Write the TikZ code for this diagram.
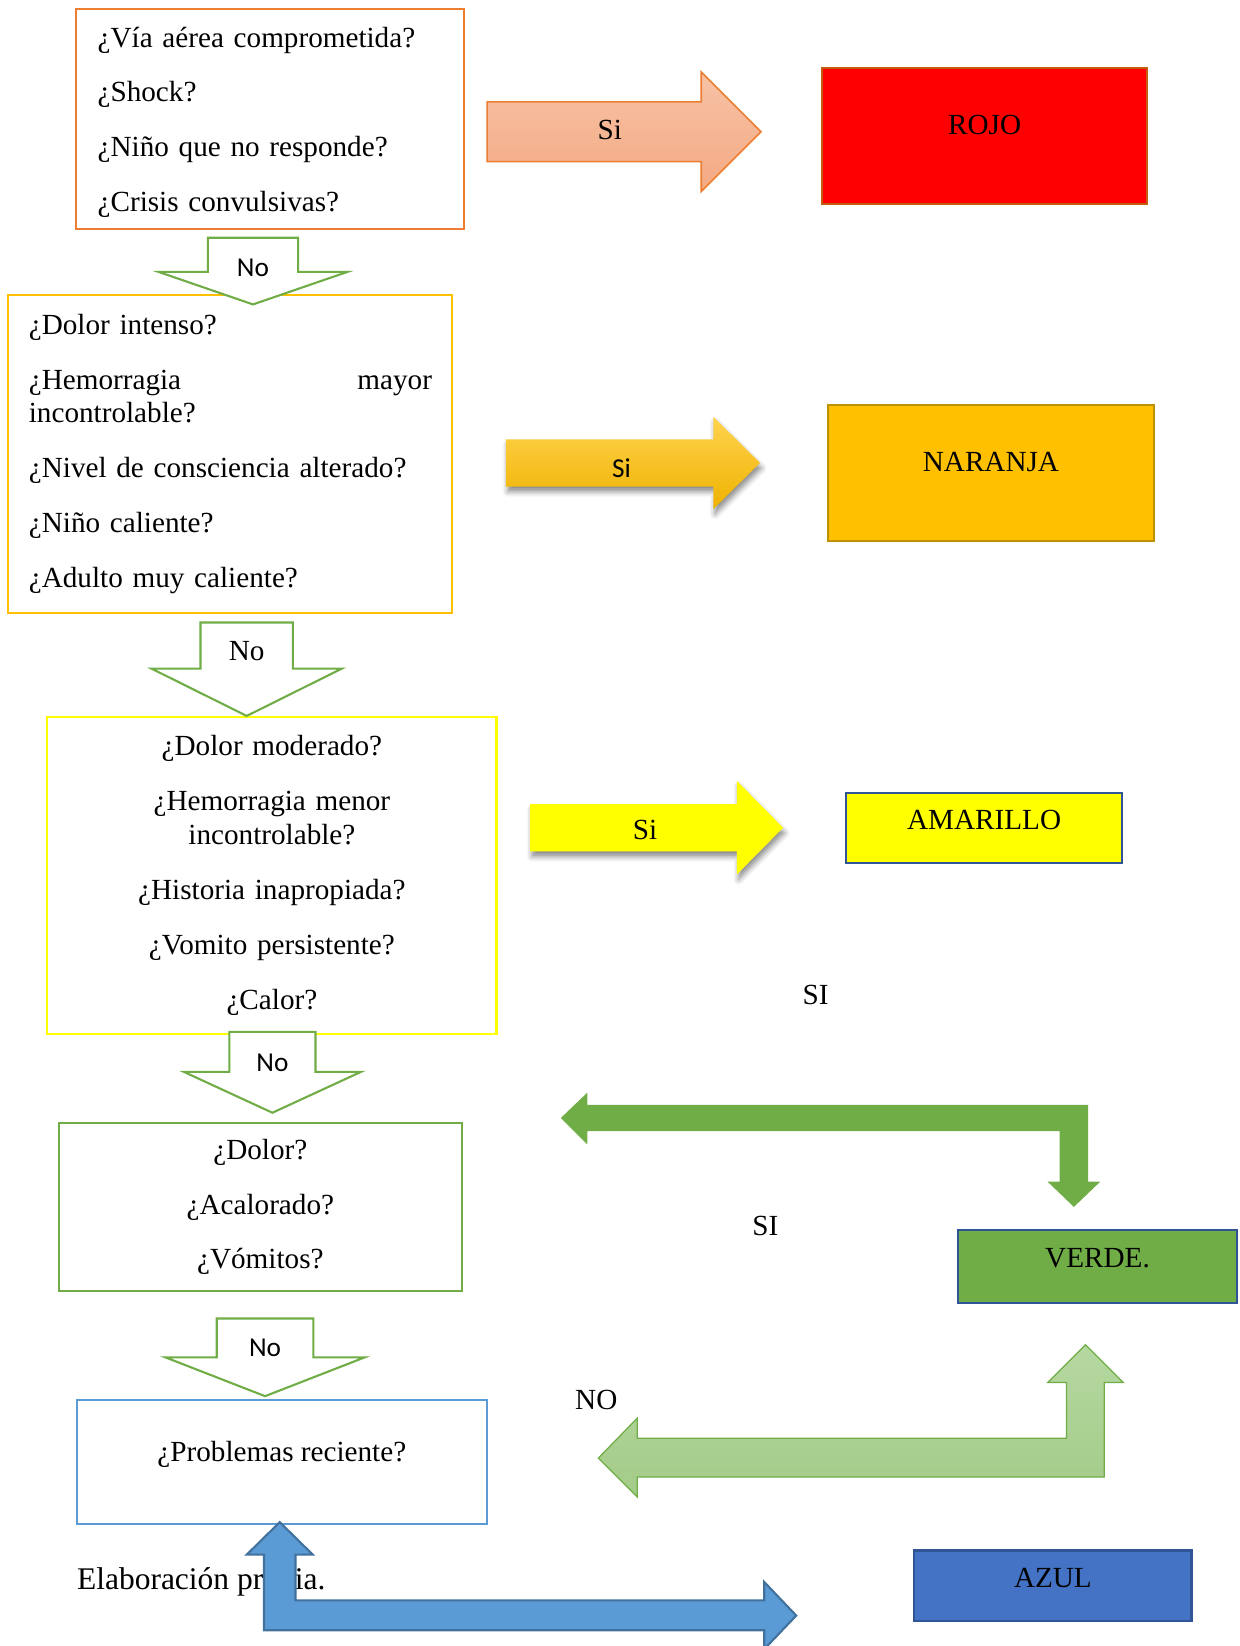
\documentclass[tikz,border=0pt]{standalone}
\usepackage{fontspec}
\setmainfont{Liberation Serif}
\newfontfamily\calibrifont{Carlito}
\usetikzlibrary{shadows.blur}
\definecolor{corange}{HTML}{ED7D31}
\definecolor{cbrown}{HTML}{C55A11}
\definecolor{csalmonT}{HTML}{F7C3A6}
\definecolor{csalmonB}{HTML}{F4A983}
\definecolor{cgold}{HTML}{FFC000}
\definecolor{cgoldD}{HTML}{BF9000}
\definecolor{cgoldT}{HTML}{FFD34F}
\definecolor{cgoldB}{HTML}{EFB200}
\definecolor{cyellow}{HTML}{FFFF00}
\definecolor{cnavy}{HTML}{2F5597}
\definecolor{cgreen}{HTML}{70AD47}
\definecolor{clgreen}{HTML}{A3CB88}
\definecolor{clgreenT}{HTML}{B6D8A1}
\definecolor{cblueL}{HTML}{5B9BD5}
\definecolor{cblueD}{HTML}{41719C}
\definecolor{cblue}{HTML}{4472C4}
\newcommand\diagfont{\fontsize{13.9}{16}\selectfont}
\newcommand\capfont{\fontsize{15}{17}\selectfont}
\newcommand\sansdiag{\calibrifont\fontsize{13}{15}\selectfont}
\begin{document}
\begin{tikzpicture}[x=0.5pt,y=-0.5pt,
  qbox/.style={draw, line width=1pt, font=\diagfont, inner ysep=0pt},
  colbox/.style={draw, line width=1pt},
  downarrow/.style={draw=cgreen, line width=1pt, fill=white, line join=miter},
  serlbl/.style={font=\diagfont, inner sep=0pt},
  sanlbl/.style={font=\sansdiag, inner sep=0pt},
  softshadow/.style={blur shadow={shadow xshift=0.8pt, shadow yshift=-2.5pt,
      shadow blur radius=2.5pt, shadow opacity=45}},
]
\useasboundingbox (0,0) rectangle (1181,1568);

% ---------- question boxes ----------
\node[qbox, draw=corange, minimum width=185pt, minimum height=104.5pt,
      text width=164pt, inner xsep=10.5pt, align=left] (q1) at (257,113.5)
  {\rule{0pt}{12.5pt}¿Vía aérea comprometida?\\[10pt]¿Shock?\\[10pt]¿Niño que no responde?\\[10pt]¿Crisis convulsivas?};

\node[qbox, draw=cgold, minimum width=211.5pt, minimum height=151.5pt,
      text width=192pt, inner xsep=9.75pt, align=left] (q2) at (219.5,432.5)
  {¿Dolor intenso?\\[10.2pt]\makebox[192pt][l]{¿Hemorragia\hfill mayor}\\incontrolable?\\[10.2pt]¿Nivel de consciencia alterado?\\[10.2pt]¿Niño caliente?\\[10.2pt]¿Adulto muy caliente?};

\node[qbox, draw=cyellow, minimum width=214pt, minimum height=151pt,
      text width=200pt, align=center] (q3) at (259,834)
  {¿Dolor moderado?\\[10.2pt]¿Hemorragia menor\\incontrolable?\\[10.2pt]¿Historia inapropiada?\\[10.2pt]¿Vomito persistente?\\[10.2pt]¿Calor?};

\node[qbox, draw=cgreen, minimum width=192pt, minimum height=80pt,
      text width=180pt, align=center] (q4) at (248,1150)
  {¿Dolor?\\[10pt]¿Acalorado?\\[10pt]¿Vómitos?};

\node[qbox, draw=cblueL, minimum width=195.5pt, minimum height=59pt,
      label={[serlbl,yshift=4pt]center:¿Problemas reciente?}] (q5) at (268.5,1393) {};

% ---------- colour boxes ----------
\node[colbox, draw=cbrown, fill=red, minimum width=155pt, minimum height=64.5pt,
      label={[serlbl,yshift=5.25pt]center:ROJO}] (rojo) at (938,129.5) {};
\node[colbox, draw=cgoldD, fill=cgold, minimum width=155pt, minimum height=64.5pt,
      label={[serlbl,yshift=5.25pt]center:NARANJA}] (naranja) at (944,450.5) {};
\node[colbox, draw=cnavy, fill=cyellow, minimum width=131.5pt, minimum height=33.5pt,
      label={[serlbl,yshift=3.75pt]center:AMARILLO}] (amarillo) at (937.5,788.5) {};
\node[colbox, draw=cnavy, fill=cgreen, minimum width=132.5pt, minimum height=34.5pt,
      label={[serlbl,yshift=3.75pt]center:VERDE.}] (verde) at (1045.5,1206.5) {};
\node[colbox, draw=cnavy, fill=cblue, minimum width=132pt, minimum height=33.5pt,
      label={[serlbl,yshift=3.75pt]center:AZUL}] (azul) at (1003,1510.5) {};

% ---------- "No" down arrows ----------
\draw[downarrow] (198,226.5) -- (284,226.5) -- (284,259) -- (331,259) -- (241,290)
  -- (151,259) -- (198,259) -- cycle;
\node[sanlbl] (no1) at (241,255.5) {No};

\draw[downarrow] (191,593) -- (279,593) -- (279,637) -- (325.5,637) -- (235,682)
  -- (144.5,637) -- (191,637) -- cycle;
\node[serlbl] (no2) at (235,620) {No};

\draw[downarrow] (218.5,983) -- (300.5,983) -- (300.5,1021) -- (344,1021) -- (259.5,1060)
  -- (175,1021) -- (218.5,1021) -- cycle;
\node[sanlbl] (no3) at (259.5,1012) {No};

\draw[downarrow] (206.5,1256) -- (298.5,1256) -- (298.5,1293) -- (347.5,1293) -- (252.5,1330)
  -- (157.5,1293) -- (206.5,1293) -- cycle;
\node[sanlbl] (no4) at (252.5,1284) {No};

% ---------- "Si" right arrows ----------
\draw[draw=corange, line width=0.75pt, top color=csalmonT, bottom color=csalmonB]
  (464,97) -- (668,97) -- (668,68.5) -- (725,125.5) -- (668,182.5) -- (668,154)
  -- (464,154) -- cycle;
\node[serlbl] (si1) at (581,124) {Si};

\path[top color=cgoldT, bottom color=cgoldB, softshadow]
  (482,418.5) -- (679.5,418.5) -- (679.5,397) -- (724,441) -- (679.5,485) -- (679.5,463.5)
  -- (482,463.5) -- cycle;
\node[sanlbl] (si2) at (592,446) {Si};

\path[fill=cyellow, softshadow]
  (505,766) -- (702,766) -- (702,744) -- (746,788.5) -- (702,833) -- (702,811)
  -- (505,811) -- cycle;
\node[serlbl] (si3) at (614.5,790.5) {Si};

% ---------- free labels ----------
\node[serlbl] (si4) at (777,948) {SI};
\node[serlbl] (si5) at (729,1168) {SI};
\node[serlbl] (no5) at (568,1334) {NO};

% ---------- green bent arrow ----------
\draw[fill=cgreen, draw=cgreen, line width=0.5pt, line join=miter]
  (535,1065) -- (559,1042) -- (559,1053) -- (1036,1053) -- (1036,1126) -- (1047,1126)
  -- (1023,1149) -- (999,1126) -- (1010,1126) -- (1010,1077) -- (559,1077) -- (559,1089) -- cycle;

% ---------- light green bent arrow ----------
\draw[top color=clgreenT, bottom color=clgreen, draw=cgreen, line width=0.6pt, line join=miter]
  (570,1389) -- (607,1351) -- (607,1370) -- (1016,1370) -- (1016,1317) -- (998,1317)
  -- (1034,1281) -- (1070,1317) -- (1052,1317) -- (1052,1407) -- (607,1407) -- (607,1426) -- cycle;

% ---------- caption ----------
\node[font=\capfont, inner sep=0pt, anchor=west] (src) at (73,1507) {Elaboración propia.};

% ---------- blue bent arrow ----------
\draw[fill=cblueL, draw=cblueD, line width=1pt, line join=miter]
  (266.5,1450) -- (298,1481) -- (281.5,1481) -- (281.5,1524.5) -- (728,1524.5) -- (728,1507)
  -- (758.5,1539) -- (728,1571) -- (728,1553) -- (251.5,1553) -- (251.5,1481) -- (235,1481) -- cycle;
\end{tikzpicture}
\end{document}
